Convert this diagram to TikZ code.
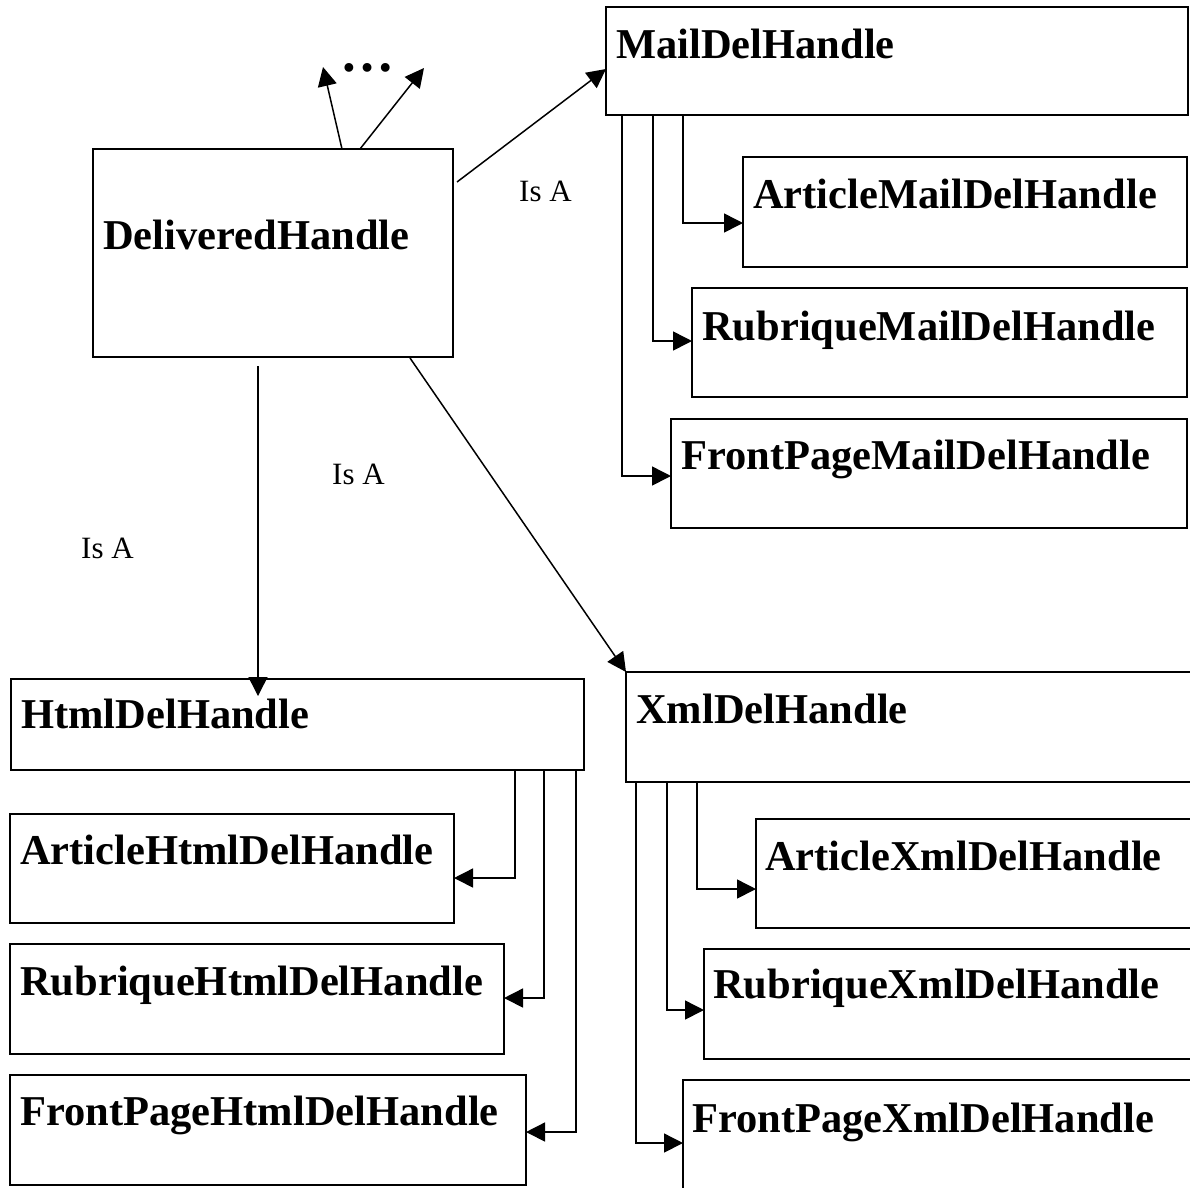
\documentclass[tikz,border=0pt]{standalone}
\usepackage{fontspec}
\setmainfont{Liberation Serif}
\usetikzlibrary{arrows.meta,calc}
\begin{document}
\begin{tikzpicture}[x=1pt,y=-1pt,
  box/.style={draw,line width=1.5pt,inner sep=0pt,outer sep=0pt,anchor=north west},
  lbl/.style={inner sep=0pt,anchor=base west,font=\bfseries\fontsize{42.5}{50}\selectfont},
  isa/.style={inner sep=0pt,anchor=base west,font=\fontsize{31}{36}\selectfont},
  conn/.style={line width=1.5pt,-{Triangle[length=19pt,width=19pt]}}]
\useasboundingbox (0,0) rectangle (1190,1187);
% boxes
\node[box,minimum width=360pt,minimum height=208pt] (dh) at (93,149) {};
\node[box,minimum width=582pt,minimum height=108pt] (mail) at (606,7) {};
\node[box,minimum width=444pt,minimum height=110pt] (amail) at (743,157) {};
\node[box,minimum width=495pt,minimum height=109pt] (rmail) at (692,288) {};
\node[box,minimum width=516pt,minimum height=109pt] (fmail) at (671,419) {};
\node[box,minimum width=573pt,minimum height=91pt] (html) at (11,679) {};
\node[box,minimum width=444pt,minimum height=109pt] (ahtml) at (10,814) {};
\node[box,minimum width=494pt,minimum height=110pt] (rhtml) at (10,944) {};
\node[box,minimum width=516pt,minimum height=110pt] (fhtml) at (10,1075) {};
\node[box,minimum width=600pt,minimum height=110pt] (xml) at (626,672) {};
\node[box,minimum width=500pt,minimum height=109pt] (axml) at (756,819) {};
\node[box,minimum width=550pt,minimum height=110pt] (rxml) at (704,949) {};
\node[box,minimum width=550pt,minimum height=150pt] (fxml) at (683,1080) {};
% texts
\node[lbl] (tdh) at (103,249) {DeliveredHandle};
\node[lbl] (tmail) at (616,58) {MailDelHandle};
\node[lbl] (tamail) at (753,208) {ArticleMailDelHandle};
\node[lbl] (trmail) at (702,340) {RubriqueMailDelHandle};
\node[lbl] (tfmail) at (681,469) {FrontPageMailDelHandle};
\node[lbl] (thtml) at (21,728) {HtmlDelHandle};
\node[lbl] (tahtml) at (20,864) {ArticleHtmlDelHandle};
\node[lbl] (trhtml) at (20,995) {RubriqueHtmlDelHandle};
\node[lbl] (tfhtml) at (20,1125) {FrontPageHtmlDelHandle};
\node[lbl] (txml) at (636,723) {XmlDelHandle};
\node[lbl] (taxml) at (765,870) {ArticleXmlDelHandle};
\node[lbl] (trxml) at (713,998) {RubriqueXmlDelHandle};
\node[lbl] (tfxml) at (692,1132) {FrontPageXmlDelHandle};
% labels
\node[isa] (isa1) at (519,201) {Is A};
\node[isa] (isa2) at (81,558) {Is A};
\node[isa] (isa3) at (332,484) {Is A};
\node[inner sep=0pt,anchor=base,font=\bfseries\fontsize{54}{60}\selectfont] (dots) at (367,71) {…};
% free ends
\coordinate (e1) at (323,67);
\coordinate (e2) at (424,68);
% main arrows
\draw[conn] ($(dh.north west)+(249,0)$) -- (e1);
\draw[conn] ($(dh.north west)+(267,0)$) -- (e2);
\draw[conn] ($(dh.north east)+(4,33)$) -- ($(mail.north west)+(0,62)$);
\draw[conn] ($(dh.south west)+(165,9)$) -- ($(html.north west)+(247,17)$);
\draw[conn] ($(dh.south west)+(317,1)$) -- (xml.north west);
% mail children
\draw[conn] ($(mail.south west)+(77,0)$) |- ($(amail.north west)+(0,66)$);
\draw[conn] ($(mail.south west)+(47,0)$) |- ($(rmail.north west)+(0,53)$);
\draw[conn] ($(mail.south west)+(16,0)$) |- ($(fmail.north west)+(0,57)$);
% html children
\draw[conn] ($(html.south west)+(504,0)$) |- ($(ahtml.north east)+(0,64)$);
\draw[conn] ($(html.south west)+(533,0)$) |- ($(rhtml.north east)+(0,54)$);
\draw[conn] ($(html.south west)+(565,0)$) |- ($(fhtml.north east)+(0,57)$);
% xml children
\draw[conn] ($(xml.south west)+(71,0)$) |- ($(axml.north west)+(0,70)$);
\draw[conn] ($(xml.south west)+(41,0)$) |- ($(rxml.north west)+(0,61)$);
\draw[conn] ($(xml.south west)+(10,0)$) |- ($(fxml.north west)+(0,63)$);
\end{tikzpicture}
\end{document}
